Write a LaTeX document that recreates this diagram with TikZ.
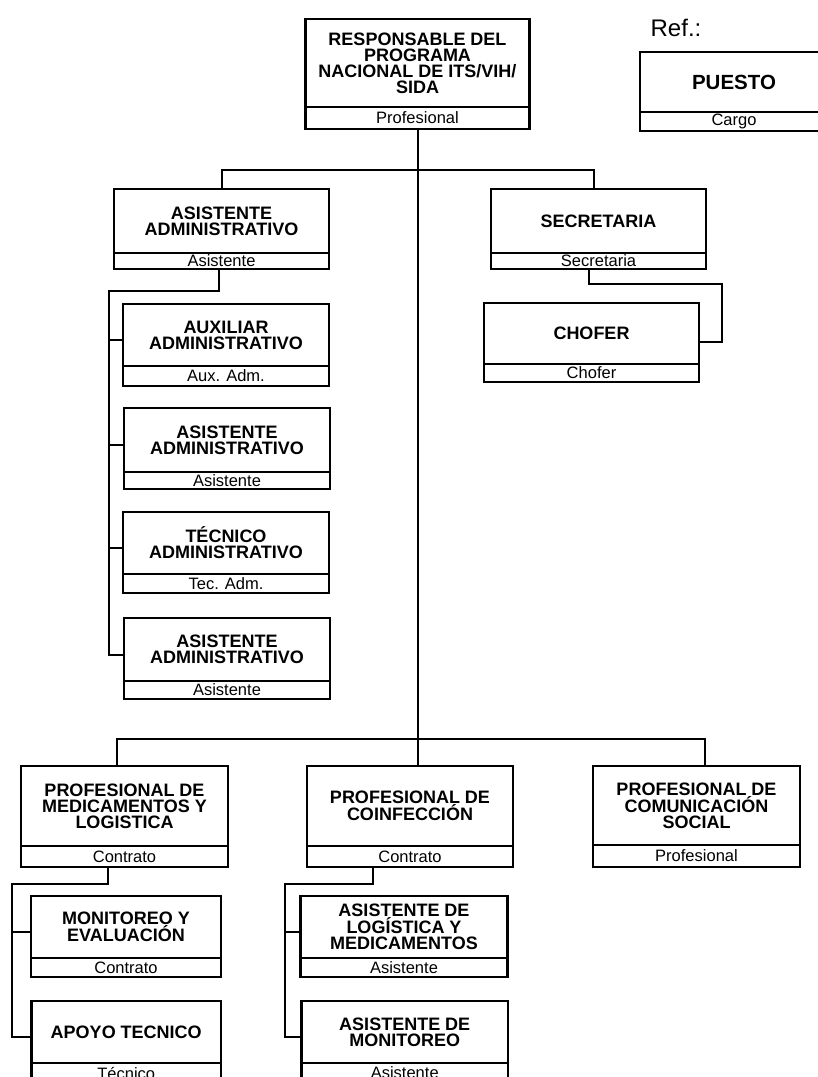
\documentclass[tikz,border=0pt]{standalone}
\usepackage{fontspec}
\setmainfont{Liberation Sans}
\usepackage{tikz}
\usetikzlibrary{positioning, calc}

\begin{document}
\begin{tikzpicture}[x=1pt, y=-1pt,
  puesto/.style={draw, line width=2.2pt, inner sep=0pt, outer sep=0pt, align=center,
    font=\bfseries\fontsize{18}{16}\selectfont},
  cargo/.style={draw, line width=2.2pt, inner sep=0pt, outer sep=0pt,
    font=\fontsize{16.5}{16}\selectfont},
  enlace/.style={line width=2pt}]
  \useasboundingbox (0,0) rectangle (818,1077);
  \clip (0,0) rectangle (818,1077);

  % Responsable
  \node[puesto, minimum width=224pt, minimum height=88pt] (resp) at (417.5,63) {RESPONSABLE DEL\\PROGRAMA\\NACIONAL DE ITS/VIH/\\SIDA};
  \node[cargo, minimum width=224pt, minimum height=22pt, below=0pt of resp] (resp-c) {Profesional};

  % Referencia
  \node[font=\fontsize{24}{24}\selectfont] (ref) at (676,28) {Ref.:};
  \node[puesto, font=\bfseries\fontsize{20.5}{20}\selectfont, minimum width=188pt, minimum height=60pt] (pto) at (734,82) {PUESTO};
  \node[cargo, minimum width=188pt, minimum height=19pt, below=0pt of pto] (pto-c) {Cargo};

  % Area administrativa
  \node[puesto, minimum width=215pt, minimum height=64pt] (asisAdm) at (221.5,221) {ASISTENTE\\ADMINISTRATIVO};
  \node[cargo, minimum width=215pt, minimum height=16pt, below=0pt of asisAdm] (asisAdm-c) {Asistente};
  \node[puesto, minimum width=206pt, minimum height=62pt] (aux) at (226,335) {AUXILIAR\\ADMINISTRATIVO};
  \node[cargo, minimum width=206pt, minimum height=20pt, below=0pt of aux] (aux-c) {Aux. Adm.};
  \node[puesto, minimum width=206pt, minimum height=64pt] (asis2) at (227,440) {ASISTENTE\\ADMINISTRATIVO};
  \node[cargo, minimum width=206pt, minimum height=17pt, below=0pt of asis2] (asis2-c) {Asistente};
  \node[puesto, minimum width=206pt, minimum height=62pt] (tec) at (226,543) {TÉCNICO\\ADMINISTRATIVO};
  \node[cargo, minimum width=206pt, minimum height=19pt, below=0pt of tec] (tec-c) {Tec. Adm.};
  \node[puesto, minimum width=206pt, minimum height=63pt] (asis3) at (227,649.5) {ASISTENTE\\ADMINISTRATIVO};
  \node[cargo, minimum width=206pt, minimum height=18pt, below=0pt of asis3] (asis3-c) {Asistente};

  % Secretaria
  \node[puesto, minimum width=215pt, minimum height=64pt] (secr) at (598.5,221) {SECRETARIA};
  \node[cargo, minimum width=215pt, minimum height=16pt, below=0pt of secr] (secr-c) {Secretaria};
  \node[puesto, minimum width=215pt, minimum height=61pt] (chof) at (591.5,333.5) {CHOFER};
  \node[cargo, minimum width=215pt, minimum height=18pt, below=0pt of chof] (chof-c) {Chofer};

  % Profesionales
  \node[puesto, minimum width=207pt, minimum height=80pt] (med) at (124.5,806) {PROFESIONAL DE\\MEDICAMENTOS Y\\LOGISTICA};
  \node[cargo, minimum width=207pt, minimum height=21pt, below=0pt of med] (med-c) {Contrato};
  \node[puesto, minimum width=205.5pt, minimum height=80pt] (coinf) at (410,806) {PROFESIONAL DE\\COINFECCIÓN};
  \node[cargo, minimum width=205.5pt, minimum height=21pt, below=0pt of coinf] (coinf-c) {Contrato};
  \node[puesto, minimum width=207pt, minimum height=79pt] (com) at (696.5,805.5) {PROFESIONAL DE\\COMUNICACIÓN\\SOCIAL};
  \node[cargo, minimum width=207pt, minimum height=22pt, below=0pt of com] (com-c) {Profesional};

  % Dependientes
  \node[puesto, minimum width=190pt, minimum height=62pt] (moni) at (126,927) {MONITOREO Y\\EVALUACIÓN};
  \node[cargo, minimum width=190pt, minimum height=19pt, below=0pt of moni] (moni-c) {Contrato};
  \node[puesto, minimum width=189.5pt, minimum height=62pt] (apoyo) at (126.25,1032) {APOYO TECNICO};
  \node[cargo, minimum width=189.5pt, minimum height=20pt, below=0pt of apoyo] (apoyo-c) {Técnico};
  \node[puesto, minimum width=207pt, minimum height=62pt] (asislog) at (404,927) {ASISTENTE DE\\LOGÍSTICA Y\\MEDICAMENTOS};
  \node[cargo, minimum width=207pt, minimum height=19pt, below=0pt of asislog] (asislog-c) {Asistente};
  \node[puesto, minimum width=206.5pt, minimum height=62pt] (asismon) at (404.75,1032) {ASISTENTE DE\\MONITOREO};
  \node[cargo, minimum width=206.5pt, minimum height=20pt, below=0pt of asismon] (asismon-c) {Asistente};

  % Puntos de giro
  \coordinate (bus1) at (417.5,169.5);
  \coordinate (bus2) at (417.5,738.5);
  \coordinate (lomo1) at (108.5,291);
  \coordinate (giro1) at (722,284);
  \coordinate (lomo2) at (12,883.5);
  \coordinate (lomo3) at (285,883.5);

  % Lineas principales
  \draw[enlace] (resp-c.south) -- (resp-c.south |- coinf.north);
  \draw[enlace] (asisAdm.north) |- (bus1) -| ([xshift=-5pt]secr.north);
  \draw[enlace] ([xshift=-8pt]med.north) |- (bus2) -| ([xshift=8pt]com.north);

  % Asistente administrativo
  \draw[enlace] ([xshift=-3pt]asisAdm-c.south) |- (lomo1) |- ([yshift=-5pt]asis3.west);
  \foreach \n in {aux,asis2,tec}{
    \coordinate (\n-s) at ([yshift=-5pt]\n.west);
    \draw[enlace] (lomo1 |- \n-s) -- (\n-s);
  }

  % Secretaria
  \draw[enlace] ([xshift=-10pt]secr-c.south) |- (giro1) |- ([yshift=-8pt]chof.east);

  % Medicamentos
  \draw[enlace] ([xshift=-17pt]med-c.south) |- (lomo2) |- ([yshift=-5pt]apoyo.west);
  \coordinate (moni-s) at ([yshift=-5pt]moni.west);
  \draw[enlace] (lomo2 |- moni-s) -- (moni-s);

  % Coinfeccion
  \draw[enlace] ([xshift=-37pt]coinf-c.south) |- (lomo3) |- ([yshift=-5pt]asismon.west);
  \coordinate (asislog-s) at ([yshift=-5pt]asislog.west);
  \draw[enlace] (lomo3 |- asislog-s) -- (asislog-s);
\end{tikzpicture}
\end{document}
